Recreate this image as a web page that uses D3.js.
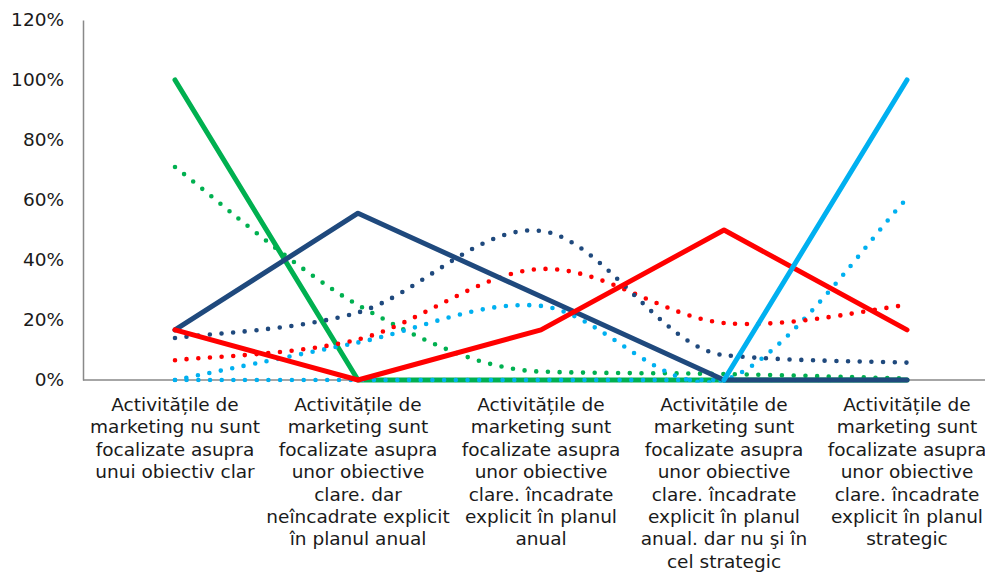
<!DOCTYPE html>
<html>
<head>
<meta charset="utf-8">
<script src="https://cdn.jsdelivr.net/npm/d3@7"></script>
<style>
  html, body { margin: 0; padding: 0; background: #fff; }
  svg { display: block; }
  text { font-family: "DejaVu Sans", Verdana, sans-serif; fill: #1a1a1a; }
</style>
</head>
<body>
<svg id="chart" width="985" height="573"></svg>
<script>
// Category labels (line breaks as printed under the axis)
const categories = [
  "Activitățile de\nmarketing nu sunt\nfocalizate asupra\nunui obiectiv clar",
  "Activitățile de\nmarketing sunt\nfocalizate asupra\nunor obiective\nclare. dar\nneîncadrate explicit\nîn planul anual",
  "Activitățile de\nmarketing sunt\nfocalizate asupra\nunor obiective\nclare. încadrate\nexplicit în planul\nanual",
  "Activitățile de\nmarketing sunt\nfocalizate asupra\nunor obiective\nclare. încadrate\nexplicit în planul\nanual. dar nu şi în\ncel strategic",
  "Activitățile de\nmarketing sunt\nfocalizate asupra\nunor obiective\nclare. încadrate\nexplicit în planul\nstrategic"
];

const yTicks = [0, 0.2, 0.4, 0.6, 0.8, 1.0, 1.2];

// Solid series
const greenSolid = [1.00, 0, 0, 0, 0];
const navySolid  = [0.167, 0.556, 0.278, 0, 0];
const redSolid   = [0.167, 0, 0.167, 0.50, 0.167];
const cyanSolid  = [null, null, null, 0, 1.00];

// Dotted (smoothed) series
const greenDotted    = [0.71, 0.25, 0.028, 0.02, 0.005];
const navyDotted     = [0.14, 0.225, 0.497, 0.083, 0.058];
const redDotted      = [0.066, 0.135, 0.37, 0.19, 0.25];
const cyanDotted     = [0, 0.125, 0.247, 0, 0.605];
const cyanDottedBase = [0, 0, 0, 0, 0];

const colors = { green: "#00B050", navy: "#1F497D", red: "#FF0000", cyan: "#00B0F0" };

const svg = d3.select("#chart");

const x = d3.scaleBand().domain(d3.range(categories.length)).range([83.5, 998.5]);
const y = d3.scaleLinear().domain([0, 1.2]).range([380, 20]);
const cx = i => x(i) + x.bandwidth() / 2;

// Plot-area clip so smoothed curves never spill below the category axis
svg.append("defs").append("clipPath").attr("id", "plot-clip")
  .append("rect").attr("x", 83).attr("y", 10).attr("width", 920).attr("height", 372.5);

// Y axis
const yAxis = svg.append("g")
  .attr("transform", "translate(83,0)")
  .call(d3.axisLeft(y).tickValues(yTicks).tickFormat(d3.format(".0%")).tickSize(0).tickPadding(19));
yAxis.select(".domain").attr("stroke", "#898989").attr("stroke-width", 1.5);
yAxis.selectAll("text").style("font-size", "18.5px").attr("fill", "#1a1a1a")
  .style("font-family", '"DejaVu Sans", Verdana, sans-serif');

// X axis
const xAxis = svg.append("g")
  .attr("transform", "translate(0,380)")
  .call(d3.axisBottom(x).tickSize(0).tickFormat(""));
xAxis.select(".domain").attr("stroke", "#898989").attr("stroke-width", 1.5)
  .attr("d", "M83,0H998");

xAxis.selectAll(".tick").each(function(d) {
  const t = d3.select(this).append("text")
    .attr("text-anchor", "middle")
    .attr("y", 31)
    .style("font-size", "18.5px")
    .attr("fill", "#1a1a1a")
    .style("font-family", '"DejaVu Sans", Verdana, sans-serif');
  categories[d].split("\n").forEach((line, k) => {
    t.append("tspan").attr("x", 0).attr("y", 31 + k * 22.4).text(line);
  });
});

const plot = svg.append("g");

function solidLine(values, color) {
  const gen = d3.line()
    .defined(d => d !== null)
    .x((d, i) => cx(i))
    .y(d => y(d));
  plot.append("path")
    .datum(values)
    .attr("d", gen)
    .attr("fill", "none")
    .attr("stroke", color)
    .attr("stroke-width", 5)
    .attr("stroke-linecap", "round")
    .attr("stroke-linejoin", "round");
}

// Smoothed line: Catmull-Rom tangents, limited where they would overshoot
// a neighbouring segment running in the same direction.
function smoothPath(values) {
  const pts = values.map((v, i) => [cx(i), y(v)]);
  const n = pts.length;
  const m = pts.map((p, i) => {
    const a = pts[Math.max(i - 1, 0)], b = pts[Math.min(i + 1, n - 1)];
    return [(b[0] - a[0]) / 2, (b[1] - a[1]) / 2];
  });
  for (let i = 0; i < n; i++) {
    [i - 1, i].forEach(s => {
      if (s < 0 || s >= n - 1) return;
      const slopeD = (pts[s + 1][1] - pts[s][1]) / (pts[s + 1][0] - pts[s][0]);
      const slopeM = m[i][1] / m[i][0];
      if (slopeM * slopeD > 0 && Math.abs(slopeM) > 2.5 * Math.abs(slopeD)) {
        m[i][1] = 2.5 * slopeD * m[i][0];
      }
    });
  }
  const p = d3.path();
  p.moveTo(pts[0][0], pts[0][1]);
  for (let i = 0; i < n - 1; i++) {
    p.bezierCurveTo(
      pts[i][0] + m[i][0] / 3, pts[i][1] + m[i][1] / 3,
      pts[i + 1][0] - m[i + 1][0] / 3, pts[i + 1][1] - m[i + 1][1] / 3,
      pts[i + 1][0], pts[i + 1][1]);
  }
  return p.toString();
}

function dottedLine(values, color) {
  plot.append("path")
    .datum(values)
    .attr("d", smoothPath)
    .attr("clip-path", "url(#plot-clip)")
    .attr("fill", "none")
    .attr("stroke", color)
    .attr("stroke-width", 4.6)
    .attr("stroke-linecap", "round")
    .attr("stroke-dasharray", "0 11.7");
}

solidLine(greenSolid, colors.green);
dottedLine(greenDotted, colors.green);
dottedLine(cyanDottedBase, colors.cyan);
dottedLine(cyanDotted, colors.cyan);
dottedLine(redDotted, colors.red);
dottedLine(navyDotted, colors.navy);
solidLine(navySolid, colors.navy);
solidLine(redSolid, colors.red);
solidLine(cyanSolid, colors.cyan);
</script>
</body>
</html>
